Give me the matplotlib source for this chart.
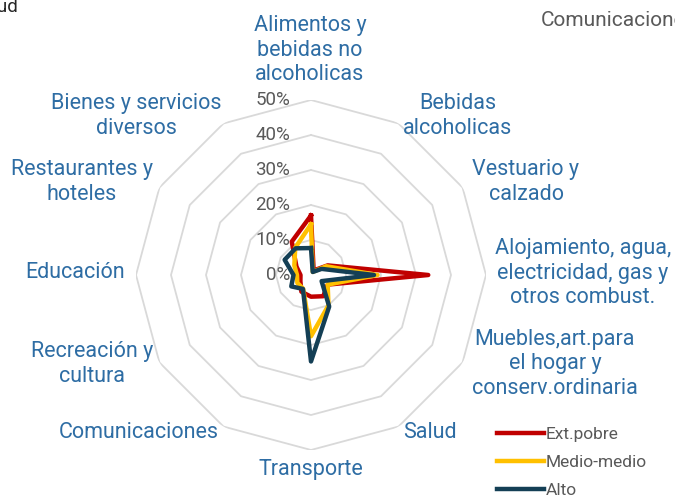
import numpy as np
import matplotlib
matplotlib.use("Agg")
import matplotlib.pyplot as plt

plt.rcParams['font.family'] = ['Roboto', 'DejaVu Sans']

# categories, clockwise from the top
categories = [
    "Alimentos y\nbebidas no\nalcoholicas",
    "Bebidas\nalcoholicas",
    "Vestuario y\ncalzado",
    "Alojamiento, agua,\nelectricidad, gas y\notros combust.",
    "Muebles,art.para\nel hogar y\nconserv.ordinaria",
    "Salud",
    "Transporte",
    "Comunicaciones",
    "Recreación y\ncultura",
    "Educación",
    "Restaurantes y\nhoteles",
    "Bienes y servicios\ndiversos",
]

# share of spending (%) per stratum
ext_pobre = [17.0, 1.5, 5.5, 33.5, 5.5, 7.0, 6.2, 5.5, 3.5, 3.0, 4.8, 11.0]
medio_medio = [14.5, 1.0, 5.0, 19.0, 5.5, 10.0, 17.5, 4.5, 4.5, 4.0, 5.5, 9.0]
alto = [7.7, 1.0, 3.5, 18.0, 3.5, 10.4, 24.7, 4.6, 6.5, 5.0, 8.7, 8.8]

series = [("Ext.pobre", ext_pobre, "#c00000"),
          ("Medio-medio", medio_medio, "#ffc000"),
          ("Alto", alto, "#143f55")]

ring_levels = [10, 20, 30, 40, 50]
tick_levels = [0, 10, 20, 30, 40, 50]

# label anchor points in pixels (x from left, y from top)
label_pos = [(310, 50), (458, 116), (526, 182), (583, 273), (555, 364), (430, 432),
             (311, 470), (139, 432), (92, 364), (75, 273), (82, 182), (136, 116)]

W, H = 675, 500
fig = plt.figure(figsize=(6.75, 5), dpi=100)
ax = fig.add_axes([136 / W, 1 - 450 / H, 350 / W, 350 / H], projection='polar')
ax.set_theta_zero_location('N')
ax.set_theta_direction(-1)
ax.set_ylim(0, 50)
ax.grid(False)
ax.spines['polar'].set_visible(False)
ax.set_xticks([])
ax.set_yticks([])
ax.patch.set_alpha(0)

n = len(categories)
theta = np.linspace(0, 2 * np.pi, n, endpoint=False)
theta_c = np.append(theta, theta[0])

for lvl in ring_levels:
    ax.plot(theta_c, [lvl] * (n + 1), color='#d9d9d9', lw=1.3, zorder=1)

for v in tick_levels:
    ax.annotate(f"{v}%", xy=(0, v), xytext=(-15, 0), textcoords='offset points',
                ha='right', va='center', fontsize=13.5, color='#595959')

for name, vals, col in series:
    ax.plot(theta_c, vals + [vals[0]], color=col, lw=3.2, label=name,
            solid_joinstyle='round', zorder=3)

for lab, (px, py) in zip(categories, label_pos):
    fig.text(px / W, 1 - py / H, lab, ha='center', va='center', fontsize=15.5,
             color='#2e6da4', linespacing=1.2)

# cut-off fragments of neighbouring elements
fig.text(18 / W, 1 - 7 / H, "Salud", ha='right', va='center', fontsize=13.5, color='#262626')
fig.text(541 / W, 1 - 20 / H, "Comunicaciones", ha='left', va='center', fontsize=15,
         color='#595959')

fig.legend(loc='upper left', bbox_to_anchor=(490 / W, 1 - 420 / H), frameon=False,
           fontsize=12.5, handlelength=2.7, handletextpad=0.1, labelspacing=0.75,
           labelcolor='#595959', borderaxespad=0)

fig.savefig('out.png', dpi=100)
